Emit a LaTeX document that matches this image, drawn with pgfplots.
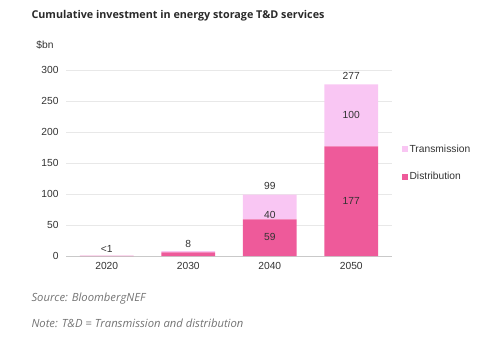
\documentclass[border=0pt]{standalone}
\usepackage{pgfplots}
\pgfplotsset{compat=1.18}
\usepackage{fontspec}
\setmainfont{Liberation Sans}
\newfontfamily\titlefont{Open Sans}
\definecolor{dist}{HTML}{EE5A9A}
\definecolor{trans}{HTML}{F9C6F3}
\definecolor{txt}{HTML}{333333}
\definecolor{gridc}{HTML}{E8E8E8}
\begin{document}
\begin{tikzpicture}[x=1bp,y=1bp]
\path[use as bounding box] (0,0) rectangle (481,343);
\pgfplotsset{
  base/.style={
    scale only axis, width=326bp, height=186bp,
    at={(66bp,87bp)}, anchor=south west,
    xmin=-0.5, xmax=3.5, ymin=0, ymax=300,
    /pgf/number format/assume math mode=true,
  }
}
\begin{axis}[base,
  axis x line*=bottom, axis y line*=left,
  y axis line style={draw=none},
  x axis line style={draw=gridc!70!gray, line width=0.6pt},
  xtick={0,1,2,3}, xticklabels={2020,2030,2040,2050},
  extra x ticks={-0.5,0.5,1.5,2.5,3.5}, extra x tick labels={},
  extra x tick style={tick style={draw=gridc!70!gray, line width=0.6pt}, major tick length=3bp, tick pos=bottom, tick align=outside},
  major x tick style={draw=none},
  ytick={0,50,...,300}, ytick style={draw=none},
  ymajorgrids, grid style={gridc, line width=0.6pt},
  yticklabel style={font=\fontsize{10.3}{12}\selectfont, text=txt, xshift=-4bp},
  xticklabel style={font=\fontsize{10.3}{12}\selectfont, text=txt, yshift=-3bp},
  ybar stacked, bar width=0.66,
  legend style={draw=none, fill=none, at={(1.03,0.5)}, anchor=west, font=\fontsize{10.3}{12}\selectfont, text=txt, row sep=15bp, legend cell align=left, inner sep=0pt},
  legend image code/.code={\fill[#1] (0,-2.8bp) rectangle (5.6bp,2.8bp);},
  reverse legend,
]
\addplot[fill=dist, draw=none] coordinates {(0,0.3) (1,6) (2,59) (3,177)};
\addlegendentry{Distribution}
\addplot[fill=trans, draw=none] coordinates {(0,0.2) (1,2) (2,40) (3,100)};
\addlegendentry{Transmission}
\end{axis}
\begin{axis}[base, axis lines=none, xtick=\empty, ytick=\empty,
  nodes near coords, point meta=explicit symbolic,
  every node near coord/.append style={anchor=center, font=\fontsize{10.3}{12}\selectfont, text=txt},
]
\addplot[only marks, mark=none] table[meta=label] {
x y label
0 12 {<1}
1 20 8
2 113 99
3 291 277
2 66 40
2 30 59
3 227 100
3 88.5 177
};
\end{axis}
\node[anchor=east, font=\fontsize{10.3}{12}\selectfont, text=txt] at (57,298) {\$bn};
\node[anchor=west, font=\titlefont\bfseries\fontsize{10.8}{13}\selectfont, text=txt!80!black] at (28,327) {Cumulative investment in energy storage T\&D services};
\node[anchor=west, font=\titlefont\itshape\fontsize{11.3}{13}\selectfont, text=gray!90!black] at (28,44) {Source: BloombergNEF};
\node[anchor=west, font=\titlefont\itshape\fontsize{11.3}{13}\selectfont, text=gray!90!black] at (28,20) {Note: T\&D = Transmission and distribution};
\end{tikzpicture}
\end{document}
